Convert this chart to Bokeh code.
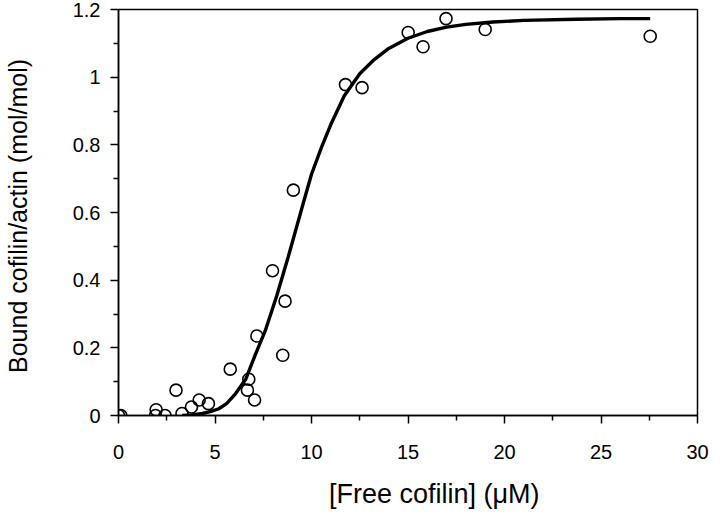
from bokeh.plotting import figure
from bokeh.models import Range1d, FixedTicker
from bokeh.embed import file_html
from bokeh.resources import INLINE

# Measured data points (open circles)
free_cofilin = [0, 0.12, 1.92, 1.95, 2.41, 2.98, 3.29, 3.78, 4.18, 4.66, 5.79, 6.68, 6.75,
                7.05, 7.17, 7.98, 8.51, 8.63, 9.06, 11.76, 12.62, 15.01, 15.78, 16.97, 19.0, 27.55]
bound_ratio = [0, 0, 0, 0.017, 0, 0.075, 0.006, 0.025, 0.046, 0.035, 0.137, 0.075, 0.107,
               0.046, 0.235, 0.428, 0.178, 0.338, 0.666, 0.978, 0.969, 1.132, 1.090, 1.173, 1.141, 1.121]

# Fitted curve
curve_x = [3.3, 3.8, 4.35, 4.8, 5.2, 5.6, 6.06, 6.6, 7.09, 7.6, 8.2, 8.8, 9.66, 10.0, 10.5,
           11.0, 11.7, 12.5, 13.25, 14.0, 15.0, 16.0, 17.0, 18.0, 19.4, 21.0, 23.7, 26.0, 27.55]
curve_y = [0, 0.002, 0.006, 0.012, 0.02, 0.035, 0.064, 0.108, 0.18, 0.25, 0.354, 0.47, 0.645,
           0.713, 0.79, 0.86, 0.945, 1.01, 1.052, 1.085, 1.115, 1.135, 1.148, 1.156, 1.163,
           1.168, 1.171, 1.173, 1.173]

x_ticks = [0, 5, 10, 15, 20, 25, 30]
y_ticks = [0, 0.2, 0.4, 0.6, 0.8, 1.0, 1.2]
y_tick_labels = {0: "0", 0.2: "0.2", 0.4: "0.4", 0.6: "0.6", 0.8: "0.8", 1.0: "1", 1.2: "1.2"}

FONT = "Liberation Sans"

p = figure(width=712, height=516, output_backend="svg", toolbar_location=None,
           x_range=Range1d(0, 30), y_range=Range1d(0, 1.2),
           min_border_left=114, min_border_right=15, min_border_top=9, min_border_bottom=101)

p.background_fill_color = "white"
p.border_fill_color = "white"
p.outline_line_color = "black"
p.outline_line_width = 1.5
p.xgrid.visible = False
p.ygrid.visible = False

p.line(curve_x, curve_y, line_color="black", line_width=3.4)
p.scatter(free_cofilin, bound_ratio, marker="circle", size=12, fill_color="white",
          fill_alpha=0, line_color="black", line_width=1.6)

for ax in (p.xaxis[0], p.yaxis[0]):
    ax.axis_line_color = "black"
    ax.axis_line_width = 1.5
    ax.major_tick_line_color = "black"
    ax.major_tick_line_width = 1.5
    ax.minor_tick_line_color = "black"
    ax.minor_tick_line_width = 1.5
    ax.major_tick_in = 0
    ax.major_tick_out = 8
    ax.minor_tick_in = 0
    ax.minor_tick_out = 5
    ax.major_label_text_font = FONT
    ax.major_label_text_font_size = "20px"
    ax.major_label_text_color = "black"
    ax.axis_label_text_font = FONT
    ax.axis_label_text_font_style = "normal"
    ax.axis_label_text_color = "black"

p.xaxis.ticker = FixedTicker(ticks=x_ticks, minor_ticks=[2.5 + 5 * i for i in range(6)])
p.yaxis.ticker = FixedTicker(ticks=y_ticks, minor_ticks=[0.1 + 0.2 * i for i in range(6)])
p.yaxis.major_label_overrides = y_tick_labels
p.xaxis.major_label_standoff = 21
p.yaxis.major_label_standoff = 10

p.yaxis.axis_label = "Bound cofilin/actin  (mol/mol)"
p.yaxis.axis_label_text_font_size = "25px"
p.yaxis.axis_label_standoff = 38

# the reference title sits right of the frame centre; non-breaking spaces shift it
p.xaxis.axis_label = "\u00a0" * 7 + "[Free cofilin] (\u03bcM)"
p.xaxis.axis_label_text_font_size = "27px"
p.xaxis.axis_label_standoff = 17

open("out.html", "w").write(file_html(p, INLINE))
